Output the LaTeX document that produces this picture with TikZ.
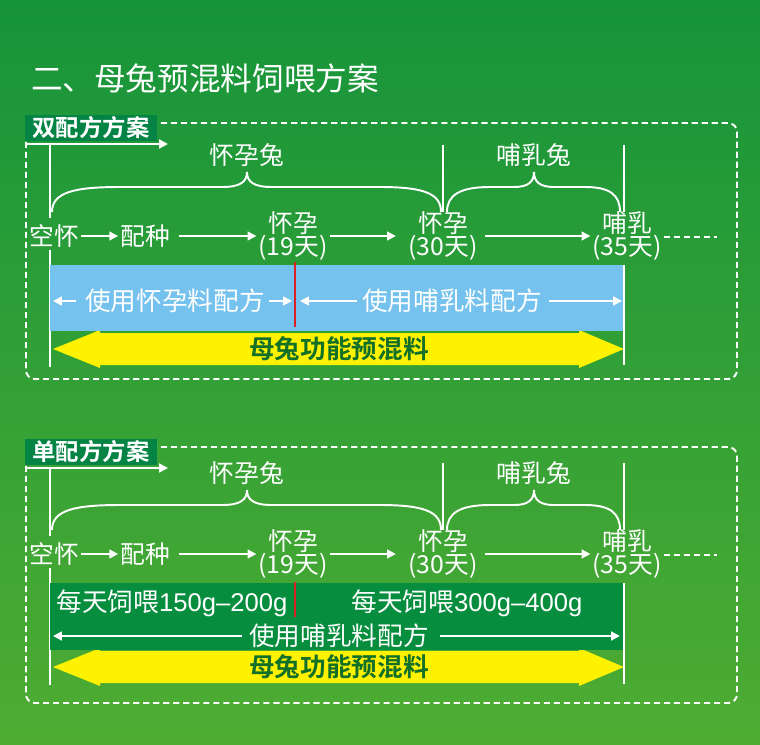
\documentclass[tikz,border=0pt]{standalone}
\usepackage{fontspec}
\setmainfont{Noto Sans CJK SC}[BoldFont={Noto Sans CJK SC Bold}]
\newfontfamily\numfont{Liberation Sans}
\usetikzlibrary{arrows.meta,positioning}

\definecolor{bgtop}{RGB}{22,148,58}
\definecolor{bgbot}{RGB}{78,172,50}
\definecolor{tagbg}{RGB}{4,132,68}
\definecolor{barblue}{RGB}{118,194,238}
\definecolor{bargreen}{RGB}{6,142,62}
\definecolor{mixyel}{RGB}{255,242,0}
\definecolor{mixtxt}{RGB}{18,112,40}
\definecolor{cutred}{RGB}{222,32,36}

\tikzset{
  wline/.style={white, line width=1.1pt},
  warr/.style={white, line width=1.1pt, -{Triangle[length=5pt,width=5pt]}},
  wdash/.style={white, line width=1.1pt, dash pattern=on 3.5pt off 2.2pt},
  lbl/.style={text=white, font=\fontsize{14.1}{13}\selectfont, inner sep=1pt},
  barlbl/.style={lbl, font=\fontsize{14.6}{15}\selectfont},
  stage/.style={lbl, align=center},
  tagbox/.style={fill=tagbg, text=white, font=\fontsize{13.3}{14}\selectfont\bfseries,
    minimum width=132*0.02cm, minimum height=26*0.02cm, inner sep=0pt},
  mixtext/.style={text=mixtxt, font=\fontsize{14.6}{15}\selectfont\bfseries, inner sep=0pt}
}

\begin{document}
\begin{tikzpicture}[x=0.02cm, y=-0.02cm]
\useasboundingbox (0,0) rectangle (760,744);
\shade[top color=bgtop, bottom color=bgbot] (0,0) rectangle (760,744);

% Titel
\node[text=white, font=\fontsize{18}{20}\selectfont, inner sep=0pt] (title) at (205,78) {二、母兔预混料饲喂方案};

% twee schema's, zelfde tijdlijn
\foreach \i/\dy/\ty/\tag in {1/0/0/双配方方案, 2/318/6/单配方方案} {
  \begin{scope}[shift={(0,\dy)}]
    % kader + label
    \draw[wdash, rounded corners=5pt] (26,123+\ty) rectangle (737,379+\ty);
    \node[tagbox] (tag\i) at (91,128+\ty) {\tag};
    \draw[warr] (25,144+\ty) -- (168,144+\ty);
    % assen
    \draw[wline] (50,144+\ty) -- (50,218);
    \draw[wline] (50,250) -- (50,367);
    \draw[wline] (443,145) -- (443,212);
    \draw[wline] (624,145) -- (624,212);
    % accolades
    \draw[wline] (52,212) .. controls (52,192) and (75,187) .. (120,187) -- (222,187)
      .. controls (240,187) and (247,182) .. (247,172)
      .. controls (247,182) and (254,187) .. (272,187) -- (380,187)
      .. controls (425,187) and (441,194) .. (441,212);
    \draw[wline] (447,212) .. controls (447,195) and (460,187) .. (490,187) -- (514,187)
      .. controls (528,187) and (534,182) .. (534,172)
      .. controls (534,182) and (540,187) .. (554,187) -- (585,187)
      .. controls (610,187) and (620,195) .. (620,212);
    \node[lbl] (preg\i) at (247,155) {怀孕兔};
    \node[lbl] (lact\i) at (534,155) {哺乳兔};
    % stadia
    \node[lbl] (kong\i) at (54,236) {空怀};
    \node[lbl] (pz\i) at (145,236) {配种};
    \node[stage] (hy\i a) at (293,236) {怀孕\\(19天)};
    \node[stage] (hy\i b) at (443,236) {怀孕\\(30天)};
    \node[stage] (br\i) at (627,236) {哺乳\\(35天)};
    \coordinate (tail\i) at (717,237);
    \draw[warr] (kong\i) -- (pz\i);
    \draw[warr, shorten <=4pt] (pz\i) -- (hy\i a);
    \draw[warr, shorten >=6pt] (hy\i a) -- (hy\i b);
    \draw[warr, shorten <=3pt] (hy\i b) -- (br\i);
    \draw[wdash] (br\i.east |- tail\i) -- (tail\i);
    % voerpijl
    \fill[mixyel] (53,349) -- (100,330) -- (100,333) -- (579,333) -- (579,330) -- (624,349)
      -- (579,368) -- (579,365) -- (100,365) -- (100,368) -- cycle;
    \node[mixtext] (mix\i) at (339,349) {母兔功能预混料};
  \end{scope}
}

% balk schema 1
\fill[barblue] (50,265) rectangle (624,331);
\draw[wline] (624,265) -- (624,365);
\draw[cutred, line width=1.1pt] (295,262) -- (295,327);
\node[barlbl] (usea) at (175,301) {使用怀孕料配方};
\node[barlbl] (useb) at (452,301) {使用哺乳料配方};
\coordinate (ua1) at (53,301);
\coordinate (ua2) at (292,301);
\coordinate (ub1) at (300,301);
\coordinate (ub2) at (622,301);
\draw[warr, shorten <=4pt] (usea) -- (ua1);
\draw[warr, shorten <=1pt] (usea) -- (ua2);
\draw[warr, shorten <=2pt] (useb) -- (ub1);
\draw[warr, shorten <=3pt] (useb) -- (ub2);

% balk schema 2
\fill[bargreen] (50,583) rectangle (624,650);
\draw[wline] (624,583) -- (624,684);
\draw[cutred, line width=1.1pt] (295,582) -- (295,617);
\node[barlbl] (feeda) at (172,603) {每天饲喂{\numfont 150g–200g}};
\node[barlbl] (feedb) at (467,603) {每天饲喂{\numfont 300g–400g}};
\node[barlbl] (usec) at (339,636) {使用哺乳料配方};
\coordinate (uc1) at (53,636);
\coordinate (uc2) at (620,636);
\draw[warr, shorten <=3pt] (usec) -- (uc1);
\draw[warr, shorten <=5pt] (usec) -- (uc2);
\end{tikzpicture}
\end{document}
